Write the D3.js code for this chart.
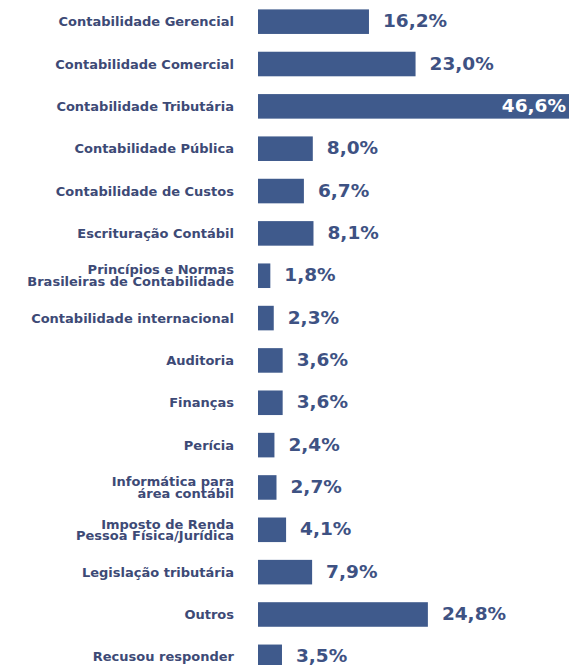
<!DOCTYPE html>
<html><head><meta charset="utf-8">
<script src="https://cdn.jsdelivr.net/npm/d3@7"></script>
<style>body{margin:0;background:#fff;}svg{display:block;}</style>
</head><body>
<script>
const categories = [
  ["Contabilidade Gerencial"],
  ["Contabilidade Comercial"],
  ["Contabilidade Tributária"],
  ["Contabilidade Pública"],
  ["Contabilidade de Custos"],
  ["Escrituração Contábil"],
  ["Princípios e Normas", "Brasileiras de Contabilidade"],
  ["Contabilidade internacional"],
  ["Auditoria"],
  ["Finanças"],
  ["Perícia"],
  ["Informática para", "área contábil"],
  ["Imposto de Renda", "Pessoa Física/Jurídica"],
  ["Legislação tributária"],
  ["Outros"],
  ["Recusou responder"]
];
const values = [16.2, 23.0, 46.6, 8.0, 6.7, 8.1, 1.8, 2.3, 3.6, 3.6, 2.4, 2.7, 4.1, 7.9, 24.8, 3.5];
const valueLabels = ["16,2%","23,0%","46,6%","8,0%","6,7%","8,1%","1,8%","2,3%","3,6%","3,6%","2,4%","2,7%","4,1%","7,9%","24,8%","3,5%"];

const W = 569, H = 665;
const svg = d3.select("body").append("svg").attr("width", W).attr("height", H);

const x = d3.scaleLinear().domain([0, 10]).range([258, 326.5]);
const y = d3.scaleBand().domain(d3.range(values.length)).range([0.5, 678]).paddingInner(0.42).paddingOuter(0.21);

const barColor = "#3f5a8c";
const valColor = "#3e5283";
const textColor = "#3d4a76";

const g = svg.append("g");
g.selectAll("rect").data(values).join("rect")
  .attr("x", x(0))
  .attr("y", (d, i) => y(i))
  .attr("width", d => Math.min(x(d), W + 5) - x(0))
  .attr("height", y.bandwidth())
  .attr("fill", barColor);

g.selectAll("text.val").data(values).join("text")
  .attr("class", "val")
  .attr("x", d => x(d) > W ? W - 3 : x(d) + 14)
  .attr("y", (d, i) => y(i) + y.bandwidth() / 2 - 1)
  .attr("dominant-baseline", "central")
  .attr("text-anchor", d => x(d) > W ? "end" : "start")
  .attr("font-family", "DejaVu Sans, sans-serif")
  .attr("font-size", 18.5)
  .attr("font-weight", "bold")
  .attr("fill", d => x(d) > W ? "#ffffff" : valColor)
  .text((d, i) => valueLabels[i]);

const lab = g.selectAll("text.cat").data(categories).join("text")
  .attr("class", "cat")
  .attr("text-anchor", "end")
  .attr("font-family", "DejaVu Sans, sans-serif")
  .attr("font-size", 13)
  .attr("font-weight", "bold")
  .attr("fill", textColor)
  .attr("transform", (d, i) => `translate(234,${y(i) + y.bandwidth() / 2})`);
lab.each(function(lines) {
  const t = d3.select(this);
  const n = lines.length;
  lines.forEach((s, k) => {
    t.append("tspan").attr("x", 0)
      .attr("y", (k - (n - 1) / 2) * 11.5)
      .attr("dominant-baseline", "central")
      .text(s);
  });
});
</script>
</body></html>
